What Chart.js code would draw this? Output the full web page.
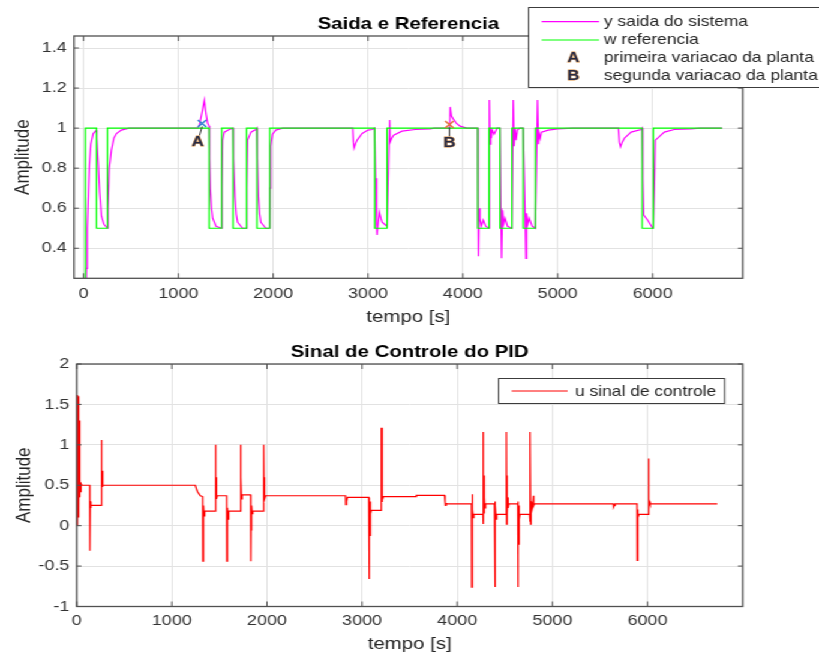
<!DOCTYPE html>
<html>
<head>
<meta charset="utf-8">
<script src="https://cdn.jsdelivr.net/npm/chart.js@4.4.1/dist/chart.umd.min.js"></script>
<style>
html,body{margin:0;padding:0;background:#fff;overflow:hidden;width:819px;height:654px;}
#wrap{position:absolute;left:0;top:0;width:683px;height:660px;transform:scaleX(1.2);transform-origin:0 0;}
#c1{position:absolute;left:0;top:0;}
#c2{position:absolute;left:0;top:330px;}
</style>
</head>
<body>
<div id="wrap">
  <canvas id="c1" width="683" height="330"></canvas>
  <canvas id="c2" width="683" height="325"></canvas>
</div>
<script>
// ---- dados ----
var xTickVals = [0, 1000, 2000, 3000, 4000, 5000, 6000];
var xTickText = ['0', '1000', '2000', '3000', '4000', '5000', '6000'];
var yTickValsTop = [0.4, 0.6, 0.8, 1, 1.2, 1.4];
var yTickTextTop = ['0.4', '0.6', '0.8', '1', '1.2', '1.4'];
var yTickValsBot = [-1, -0.5, 0, 0.5, 1, 1.5, 2];
var yTickTextBot = ['-1', '-0.5', '0', '0.5', '1', '1.5', '2'];

// w referencia
var wTime = [0, 20, 20, 137, 137, 252, 252, 1324, 1324, 1457, 1457, 1576, 1576, 1719, 1719, 1828, 1828, 1964, 1964,
  3070, 3070, 3200, 3200, 4156, 4156, 4275, 4275, 4391, 4391, 4517, 4517, 4636, 4636, 4765, 4765,
  5890, 5890, 6008, 6008, 6733];
var wRef = [0, 0, 1, 1, 0.5, 0.5, 1, 1, 0.5, 0.5, 1, 1, 0.5, 0.5, 1, 1, 0.5, 0.5, 1,
  1, 0.5, 0.5, 1, 1, 0.5, 0.5, 1, 1, 0.5, 0.5, 1, 1, 0.5, 0.5, 1,
  1, 0.5, 0.5, 1, 1];

// y saida do sistema
var yTime = [0, 22, 31, 40, 49, 62, 77, 102, 137,
  140, 154, 170, 189, 215, 252,
  258, 272, 294, 320, 347, 399, 480, 1205,
  1222, 1250, 1274, 1292, 1310, 1324,
  1330, 1337, 1350, 1362, 1397, 1457,
  1460, 1467, 1484, 1537, 1576,
  1582, 1597, 1610, 1625, 1677, 1719,
  1722, 1730, 1765, 1817, 1828,
  1834, 1845, 1858, 1870, 1922, 1964,
  1967, 1975, 1993, 2027, 2100, 2838,
  2845, 2853, 2870, 2885, 2938, 3000, 3043, 3070,
  3080, 3090, 3095, 3105, 3120, 3135, 3148, 3200,
  3215, 3228, 3233, 3250, 3270, 3358, 3498, 3655, 3700, 3862,
  3866, 3880, 3900, 3930, 3970, 4040, 4156,
  4160, 4165, 4172, 4180, 4195, 4215, 4240, 4275,
  4279, 4286, 4293, 4300, 4310, 4330, 4360, 4391,
  4400, 4408, 4418, 4430, 4445, 4470, 4517,
  4531, 4540, 4550, 4560, 4575, 4600, 4636,
  4655, 4664, 4671, 4685, 4700, 4730, 4765,
  4787, 4797, 4804, 4815, 4829, 4900, 5000, 5158, 5640,
  5650, 5662, 5680, 5704, 5774, 5879, 5890,
  5898, 5907, 5949, 5975, 6001, 6008,
  6019, 6029, 6053, 6124, 6229, 6404, 6500, 6733];
var ySaida = [0, 0, 0.3, 0.5, 0.64, 0.82, 0.92, 0.973, 0.99,
  0.95, 0.83, 0.68, 0.56, 0.52, 0.5,
  0.6, 0.8, 0.89, 0.95, 0.973, 0.99, 1.0, 1.0,
  1.015, 1.08, 1.14, 1.07, 1.023, 1.01,
  0.85, 0.7, 0.6, 0.55, 0.51, 0.5,
  0.7, 0.94, 0.98, 0.993, 1.0,
  0.85, 0.66, 0.57, 0.53, 0.5, 0.5,
  0.7, 0.94, 0.98, 0.993, 1.0,
  0.85, 0.66, 0.57, 0.53, 0.5, 0.5,
  0.7, 0.91, 0.97, 0.99, 1.0, 1.0,
  0.93, 0.9, 0.925, 0.94, 0.973, 0.99, 0.993, 1.0,
  0.75, 0.52, 0.466, 0.52, 0.58, 0.55, 0.53, 0.51,
  0.8, 1.04, 0.93, 0.95, 0.965, 0.985, 0.993, 0.996, 1.0, 1.0,
  1.106, 1.06, 1.045, 1.025, 1.01, 1.0, 1.0,
  0.6, 0.36, 0.6, 0.55, 0.51, 0.54, 0.51, 0.5,
  1.14, 0.92, 1.0, 0.95, 0.99, 0.97, 1.0, 1.0,
  0.6, 0.35, 0.59, 0.52, 0.55, 0.51, 0.5,
  1.14, 0.91, 1.0, 0.94, 0.99, 1.0, 1.0,
  0.6, 0.35, 0.575, 0.52, 0.55, 0.51, 0.5,
  1.14, 0.92, 0.973, 0.95, 0.98, 0.99, 0.996, 1.0, 1.0,
  0.93, 0.907, 0.93, 0.95, 0.98, 0.993, 1.0,
  0.75, 0.566, 0.54, 0.52, 0.5, 0.5,
  0.7, 0.94, 0.95, 0.98, 0.993, 0.996, 1.0, 1.0];

// pontos A e B
var markTime = [1250, 3858];
var markVal = [1.023, 1.018];
var markName = ['A', 'B'];

// u sinal de controle
var uTime = [0, 3, 6, 9, 12, 15, 18, 21, 24, 27, 31, 35, 40, 46, 55,
  137, 139, 143, 147, 152,
  258, 260, 264, 267, 271, 278,
  1247, 1257, 1270, 1282, 1300, 1324,
  1326, 1330, 1333, 1336, 1340, 1346,
  1457, 1459, 1463, 1466, 1470, 1478,
  1576, 1578, 1582, 1585, 1588, 1592, 1598,
  1719, 1721, 1725, 1728, 1732, 1740,
  1828, 1830, 1834, 1837, 1840, 1845, 1852,
  1964, 1966, 1970, 1973, 1977, 1985,
  2826, 2828, 2836, 2845,
  3070, 3073, 3077, 3080, 3084, 3090, 3097,
  3200, 3202, 3205, 3208, 3211, 3216, 3225,
  3560, 3570,
  3866, 3872, 3876, 3884, 3895,
  4150, 4152, 4155, 4158, 4162, 4168, 4175,
  4270, 4272, 4275, 4278, 4282, 4286, 4290, 4298,
  4391, 4393, 4396, 4399, 4403, 4408, 4414,
  4514, 4516, 4519, 4522, 4526, 4530, 4535, 4542,
  4636, 4638, 4641, 4644, 4648, 4653, 4659,
  4760, 4762, 4765, 4768, 4771, 4776, 4790, 4800, 4804, 4812,
  5640, 5644, 5652, 5660,
  5890, 5892, 5895, 5898, 5903, 5910,
  6008, 6010, 6013, 6016, 6020, 6028,
  6733];
var uCtrl = [0, 1.615, 0, 1.6, 0.05, 1.6, 0.1, 1.55, 0.2, 1.3, 0.35, 0.56, 0.42, 0.52, 0.5,
  0.5, -0.31, 0.3, 0.22, 0.25,
  0.25, 1.06, 0.5, 0.68, 0.48, 0.5,
  0.5, 0.46, 0.42, 0.4, 0.37, 0.36,
  -0.44, 0.2, -0.06, 0.25, 0.12, 0.18,
  0.18, 1.0, 0.37, 0.6, 0.33, 0.37,
  0.37, -0.44, 0.2, -0.44, 0.22, 0.08, 0.18,
  0.18, 1.0, 0.37, 0.6, 0.33, 0.38,
  0.38, -0.44, 0.22, -0.06, 0.25, 0.15, 0.18,
  0.18, 1.0, 0.37, 0.6, 0.33, 0.37,
  0.37, 0.26, 0.3, 0.35,
  0.35, -0.66, 0.31, -0.12, 0.3, 0.15, 0.19,
  0.19, 1.21, 0.3, 1.21, 0.4, 0.32, 0.36,
  0.36, 0.375,
  0.375, 0.3, 0.25, 0.28, 0.27,
  0.27, -0.76, 0.39, 0.05, 0.2, 0.1, 0.14,
  0.14, 1.16, 0.02, 0.62, 0.15, 0.35, 0.22, 0.27,
  0.27, -0.76, 0.3, -0.23, 0.25, 0.08, 0.14,
  0.14, 1.16, 0.02, 0.62, 0.15, 0.35, 0.22, 0.27,
  0.27, -0.76, 0.3, -0.23, 0.25, 0.08, 0.14,
  0.14, 1.16, 0.05, 1.16, 0.02, 0.3, 0.22, 0.37, 0.25, 0.27,
  0.27, 0.23, 0.25, 0.27,
  0.27, -0.43, -0.08, 0.2, 0.1, 0.14,
  0.14, 0.83, 0.48, 0.2, 0.3, 0.27,
  0.27];

// ---- estilo ----
var FONT = "'Liberation Sans', Arial, Helvetica, sans-serif";
var GRID = '#e2e2e2';
var AXIS = '#505050';
var TXT = '#333333';

function pts(t, v) {
  return t.map(function (x, i) { return {x: x, y: v[i]}; });
}

// caixa + ticks para dentro (estilo matlab)
var boxPlugin = {
  id: 'box',
  afterDatasetsDraw: function (chart) {
    var a = chart.chartArea, ctx = chart.ctx;
    var xs = chart.scales.x, ys = chart.scales.y;
    ctx.save();
    ctx.strokeStyle = AXIS;
    ctx.lineWidth = 1;
    ctx.beginPath();
    xs.ticks.forEach(function (t) {
      var p = xs.getPixelForValue(t.value);
      ctx.moveTo(p, a.bottom); ctx.lineTo(p, a.bottom - 5);
      ctx.moveTo(p, a.top); ctx.lineTo(p, a.top + 5);
    });
    ys.ticks.forEach(function (t) {
      var p = ys.getPixelForValue(t.value);
      ctx.moveTo(a.left, p); ctx.lineTo(a.left + 4, p);
      ctx.moveTo(a.right, p); ctx.lineTo(a.right - 4, p);
    });
    ctx.stroke();
    ctx.lineWidth = 1.3;
    ctx.strokeRect(a.left, a.top, a.right - a.left, a.bottom - a.top);
    ctx.restore();
  }
};

function drawLetter(ctx, txt, x, y) {
  ctx.font = 'bold 14px ' + FONT;
  ctx.textAlign = 'center';
  ctx.textBaseline = 'middle';
  ctx.lineWidth = 0.8;
  ctx.strokeStyle = '#d98c3a';
  ctx.strokeText(txt, x, y);
  ctx.fillStyle = '#262a45';
  ctx.fillText(txt, x, y);
}

// letras A / B junto aos marcadores
var letterPlugin = {
  id: 'letters',
  afterDatasetsDraw: function (chart) {
    var ctx = chart.ctx, xs = chart.scales.x, ys = chart.scales.y;
    ctx.save();
    markTime.forEach(function (t, i) {
      var px = xs.getPixelForValue(t), py = ys.getPixelForValue(markVal[i]);
      var dx = i == 0 ? -3.5 : 0;
      ctx.strokeStyle = '#333';
      ctx.lineWidth = 1;
      ctx.beginPath();
      ctx.moveTo(px, py + 3);
      ctx.lineTo(px + dx * 0.6, py + 12);
      ctx.stroke();
      drawLetter(ctx, markName[i], px + dx, py + 19);
    });
    ctx.restore();
  }
};

var legendTop = {
  id: 'legTop',
  afterDraw: function (chart) {
    var ctx = chart.ctx, ds = chart.data.datasets;
    ctx.save();
    ctx.fillStyle = '#fff';
    ctx.fillRect(440, 7, 260, 80);
    ctx.strokeStyle = '#3c3c3c';
    ctx.lineWidth = 1;
    ctx.strokeRect(440.5, 7.5, 260, 80);
    var rows = [21.7, 40, 58.3, 76];
    ds.forEach(function (d, i) {
      var y = rows[i];
      if (d.type == 'scatter') {
        drawLetter(ctx, markName[i - 2], 477.8, y);
      } else {
        ctx.strokeStyle = d.borderColor;
        ctx.lineWidth = 1.2;
        ctx.beginPath(); ctx.moveTo(451.4, y); ctx.lineTo(499.2, y); ctx.stroke();
      }
      ctx.fillStyle = '#262626';
      ctx.font = '14.5px ' + FONT;
      ctx.textAlign = 'left';
      ctx.textBaseline = 'middle';
      ctx.fillText(d.label, 503.3, y);
    });
    ctx.restore();
  }
};

var legendBot = {
  id: 'legBot',
  afterDraw: function (chart) {
    var ctx = chart.ctx, d = chart.data.datasets[0];
    ctx.save();
    ctx.fillStyle = '#fff';
    ctx.fillRect(415, 48, 188.3, 25);
    ctx.strokeStyle = '#3c3c3c';
    ctx.lineWidth = 1;
    ctx.strokeRect(415.5, 48.5, 188.3, 25);
    ctx.strokeStyle = d.borderColor;
    ctx.lineWidth = 1;
    ctx.beginPath(); ctx.moveTo(426.4, 61); ctx.lineTo(473, 61); ctx.stroke();
    ctx.fillStyle = '#262626';
    ctx.font = '14.5px ' + FONT;
    ctx.textAlign = 'left';
    ctx.textBaseline = 'middle';
    ctx.fillText(d.label, 479.2, 61.5);
    ctx.restore();
  }
};

function scaleX(min, max, h, pad, tpad) {
  return {
    type: 'linear', min: min, max: max,
    afterBuildTicks: function (s) { s.ticks = xTickVals.map(function (v) { return {value: v}; }); },
    afterFit: function (s) { s.height = h; },
    grid: {color: GRID, drawTicks: false, lineWidth: 1},
    border: {display: false},
    ticks: {padding: pad, color: TXT, autoSkip: false, maxRotation: 0,
      font: {family: FONT, size: 15},
      callback: function (v, i) { return xTickText[i]; }},
    title: {display: true, text: 'tempo [s]', color: '#262626',
      font: {family: FONT, size: 17}, padding: {top: 0, bottom: tpad}}
  };
}

function scaleY(min, max, vals, text, w, tpad) {
  return {
    min: min, max: max,
    afterBuildTicks: function (s) { s.ticks = vals.map(function (v) { return {value: v}; }); },
    afterFit: function (s) { s.width = w; },
    grid: {color: GRID, drawTicks: false, lineWidth: 1},
    border: {display: false},
    ticks: {padding: 6, color: TXT, autoSkip: false,
      font: {family: FONT, size: 15},
      callback: function (v, i) { return text[i]; }},
    title: {display: true, text: 'Amplitude', color: '#262626',
      font: {family: FONT, size: 17}, padding: {top: tpad, bottom: 0}}
  };
}

new Chart(document.getElementById('c1'), {
  type: 'line',
  data: {
    datasets: [
      {label: 'y saida do sistema', data: pts(yTime, ySaida), borderColor: '#ff00ff',
        borderWidth: 1.2, pointRadius: 0, tension: 0, order: 3},
      {label: 'w referencia', data: pts(wTime, wRef), borderColor: '#00ff00',
        borderWidth: 1.2, pointRadius: 0, tension: 0, order: 2},
      {type: 'scatter', label: 'primeira variacao da planta', data: [{x: markTime[0], y: markVal[0]}],
        pointStyle: 'crossRot', pointRadius: 5, borderColor: '#2f7fd0', borderWidth: 1.5, order: 1},
      {type: 'scatter', label: 'segunda variacao da planta', data: [{x: markTime[1], y: markVal[1]}],
        pointStyle: 'crossRot', pointRadius: 5, borderColor: '#e2703a', borderWidth: 1.5, order: 1}
    ]
  },
  options: {
    responsive: false, animation: false,
    layout: {padding: {left: 0, right: 64.1, top: 0, bottom: 0}},
    plugins: {
      legend: {display: false}, tooltip: {enabled: false},
      title: {display: true, text: 'Saida e Referencia', fullSize: false, color: '#000',
        font: {family: FONT, size: 17, weight: 'bold'}, padding: {top: 13.8, bottom: 1.8}}
    },
    scales: {
      x: scaleX(-100, 6950, 51.7, 6.7, 2.8),
      y: scaleY(0.25, 1.46, yTickValsTop, yTickTextTop, 61.7, 9)
    }
  },
  plugins: [boxPlugin, letterPlugin, legendTop]
});

new Chart(document.getElementById('c2'), {
  type: 'line',
  data: {
    datasets: [
      {label: 'u sinal de controle', data: pts(uTime, uCtrl), borderColor: '#ff0000',
        borderWidth: 1.2, pointRadius: 0, tension: 0}
    ]
  },
  options: {
    responsive: false, animation: false,
    layout: {padding: {left: 0, right: 64.1, top: 0, bottom: 0}},
    plugins: {
      legend: {display: false}, tooltip: {enabled: false},
      title: {display: true, text: 'Sinal de Controle do PID', fullSize: false, color: '#000',
        font: {family: FONT, size: 17, weight: 'bold'}, padding: {top: 12.3, bottom: 1.3}}
    },
    scales: {
      x: scaleX(0, 7000, 48.5, 5.5, 0),
      y: scaleY(-1, 2, yTickValsBot, yTickTextBot, 63.9, 10)
    }
  },
  plugins: [boxPlugin, legendBot]
});
</script>
</body>
</html>
